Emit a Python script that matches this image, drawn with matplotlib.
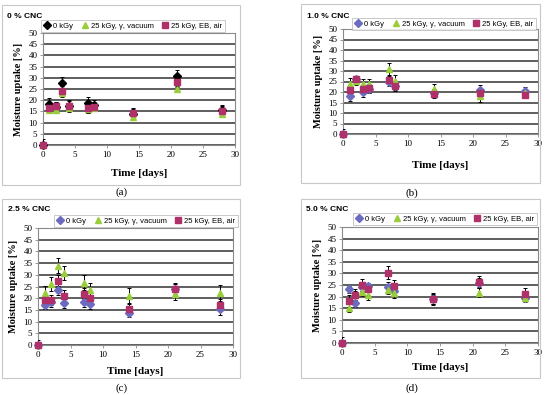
import matplotlib.pyplot as plt
from matplotlib.patches import Rectangle

W, H = 550, 395

days = [0, 1, 2, 3, 4, 7, 8, 14, 21, 28]
series_labels = ["0 kGy", "25 kGy, \u03b3, vacuum", "25 kGy, EB, air"]
panel_titles = ["0 % CNC", "1.0 % CNC", "2.5 % CNC", "5.0 % CNC"]
panel_tags = ["(a)", "(b)", "(c)", "(d)"]

# (a) 0 % CNC
a_ctrl = [0, 18.5, 17.0, 27.8, 17.5, 18.8, 17.8, 14.0, 31.0, 15.5]
a_gamma = [0, 15.8, 15.6, 23.0, 16.5, 16.0, 16.5, 12.5, 25.0, 13.9]
a_eb = [0, 16.3, 17.4, 24.2, 17.5, 16.3, 17.0, 14.2, 28.0, 15.3]
a_ctrl_err = [2.5, 2.6, 2.0, 2.5, 2.5, 2.6, 2.3, 2.5, 2.5, 2.5]
a_gamma_err = [0, 1.5, 1.5, 1.5, 1.8, 1.8, 1.5, 1.5, 1.5, 1.5]
a_eb_err = [0, 2.0, 2.0, 2.0, 2.0, 2.0, 2.0, 2.0, 2.0, 2.0]

# (b) 1.0 % CNC
b_ctrl = [0, 18.0, 26.0, 19.8, 21.5, 24.9, 23.0, 19.5, 21.0, 20.3]
b_gamma = [0, 24.0, 25.1, 23.7, 24.0, 31.0, 25.2, 21.4, 17.9, 19.5]
b_eb = [0, 21.1, 26.2, 21.4, 21.7, 25.6, 22.9, 19.0, 19.3, 18.7]
b_ctrl_err = [2.5, 2.5, 1.5, 2.0, 2.0, 2.0, 2.0, 2.0, 2.5, 2.0]
b_gamma_err = [0, 2.7, 2.0, 2.3, 2.3, 3.0, 3.0, 2.5, 2.5, 2.0]
b_eb_err = [0, 2.0, 1.5, 2.0, 2.0, 2.0, 2.3, 2.0, 2.0, 1.5]

# (c) 2.5 % CNC
c_ctrl = [0, 17.2, 18.2, 23.4, 17.8, 18.2, 17.5, 13.8, 24.0, 15.2]
c_gamma = [0, 22.3, 25.9, 33.9, 30.8, 26.6, 23.4, 21.0, 21.7, 22.3]
c_eb = [0, 19.2, 19.3, 27.3, 21.0, 22.0, 19.9, 15.2, 24.0, 17.3]
c_ctrl_err = [2.0, 2.0, 2.0, 2.0, 2.0, 2.0, 2.3, 2.0, 2.0, 2.3]
c_gamma_err = [0, 3.0, 3.0, 3.3, 3.0, 3.2, 3.2, 3.2, 2.5, 3.3]
c_eb_err = [0, 2.0, 2.2, 2.5, 2.3, 2.5, 2.3, 2.3, 2.5, 2.5]

# (d) 5.0 % CNC
d_ctrl = [0, 23.1, 17.1, 24.0, 24.4, 24.1, 22.5, 19.0, 26.0, 19.5]
d_gamma = [0, 15.3, 20.5, 22.1, 20.7, 23.0, 21.5, 18.8, 21.7, 19.2]
d_eb = [0, 18.2, 20.5, 24.9, 23.1, 30.3, 24.7, 18.9, 26.2, 21.1]
d_ctrl_err = [2.5, 1.5, 1.5, 2.0, 1.5, 2.0, 2.0, 2.0, 2.0, 1.5]
d_gamma_err = [0, 1.8, 2.0, 2.0, 2.0, 2.0, 2.0, 2.0, 1.8, 1.5]
d_eb_err = [0, 2.5, 2.8, 2.5, 2.5, 2.8, 2.5, 2.5, 2.5, 2.5]

panels = [
    ([a_ctrl, a_gamma, a_eb], [a_ctrl_err, a_gamma_err, a_eb_err]),
    ([b_ctrl, b_gamma, b_eb], [b_ctrl_err, b_gamma_err, b_eb_err]),
    ([c_ctrl, c_gamma, c_eb], [c_ctrl_err, c_gamma_err, c_eb_err]),
    ([d_ctrl, d_gamma, d_eb], [d_ctrl_err, d_gamma_err, d_eb_err]),
]

# pixel boxes: plot area (l, t, r, b), outer frame (l, t, r, b)
plot_boxes = [(43, 33, 235, 145), (343, 29, 538, 134),
              (38, 228, 233, 345), (342, 227, 538, 343)]
frame_boxes = [(2, 5, 240, 185), (301, 4, 540, 183),
               (2, 199, 240, 378), (301, 199, 540, 378)]
title_pos = [(7, 16), (307, 16), (8, 210), (306, 210)]
legend_pos = [(133, 26), (444, 24), (146, 221), (445, 219)]
xlabel_y = [173, 165, 371, 367]
tag_pos = [(122, 192), (412, 193), (122, 388), (412, 388)]

markers = ["D", "^", "s"]
a_colors = ["black", "#9acd3c", "#b0306a"]
colors = ["#6b6bbf", "#9acd3c", "#b0306a"]
msizes = [4.2, 4.8, 4.8]

serif = "Liberation Serif"
sans = "Liberation Sans"

fig = plt.figure(figsize=(W / 100, H / 100), dpi=100)

for i, ((vals, errs), pb, fb) in enumerate(zip(panels, plot_boxes, frame_boxes)):
    fl, ft, fr, fbm = fb
    fig.patches.append(Rectangle((fl / W, 1 - fbm / H), (fr - fl) / W, (fbm - ft) / H,
                                 transform=fig.transFigure, fill=False,
                                 edgecolor="#c8c8c8", lw=0.8))
    l, t, r, b = pb
    ax = fig.add_axes([l / W, 1 - b / H, (r - l) / W, (b - t) / H])
    cols = a_colors if i == 0 else colors
    handles = []
    for k in range(3):
        ax.errorbar(days, vals[k], yerr=errs[k], fmt="none", ecolor="black",
                    elinewidth=0.7, capsize=1.3, capthick=0.7, zorder=3)
        h, = ax.plot(days, vals[k], linestyle="none", marker=markers[k],
                     markersize=msizes[k], color=cols[k], clip_on=False,
                     zorder=4 + k, label=series_labels[k])
        handles.append(h)
    ax.set_xlim(0, 30)
    ax.set_ylim(0, 50)
    ax.set_xticks(range(0, 31, 5))
    ax.set_yticks(range(0, 51, 5))
    ax.yaxis.grid(True, color="#333333", lw=1.1)
    ax.set_axisbelow(True)
    for s in ax.spines.values():
        s.set_color("#8a8a8a")
        s.set_linewidth(0.8)
    ax.tick_params(labelsize=6.5, length=2.5, width=0.6, color="#8a8a8a", pad=1.5)
    for lab in ax.get_xticklabels() + ax.get_yticklabels():
        lab.set_fontfamily(serif)
    ax.set_ylabel("Moisture uptake [%]", fontfamily=serif, fontweight="bold",
                  fontsize=7.5, labelpad=4)

    fig.text(((l + r) / 2) / W, 1 - xlabel_y[i] / H, "Time [days]", ha="center",
             va="center", fontfamily=serif, fontweight="bold", fontsize=8)
    tx, ty = title_pos[i]
    fig.text(tx / W, 1 - ty / H, panel_titles[i], ha="left", va="center",
             fontfamily=sans, fontweight="bold", fontsize=6)
    gx, gy = tag_pos[i]
    fig.text(gx / W, 1 - gy / H, panel_tags[i], ha="center", va="center",
             fontfamily=serif, fontsize=8)
    lx, ly = legend_pos[i]
    leg = fig.legend(handles=handles, loc="center", bbox_to_anchor=(lx / W, 1 - ly / H),
                     ncol=3, frameon=True, fancybox=False,
                     edgecolor="#b0b0b0", borderpad=0.3, handletextpad=0.3,
                     columnspacing=1.0, handlelength=1.0, numpoints=1,
                     prop={"family": sans, "size": 5.5})
    leg.get_frame().set_linewidth(0.6)

fig.savefig("out.png", dpi=100)
